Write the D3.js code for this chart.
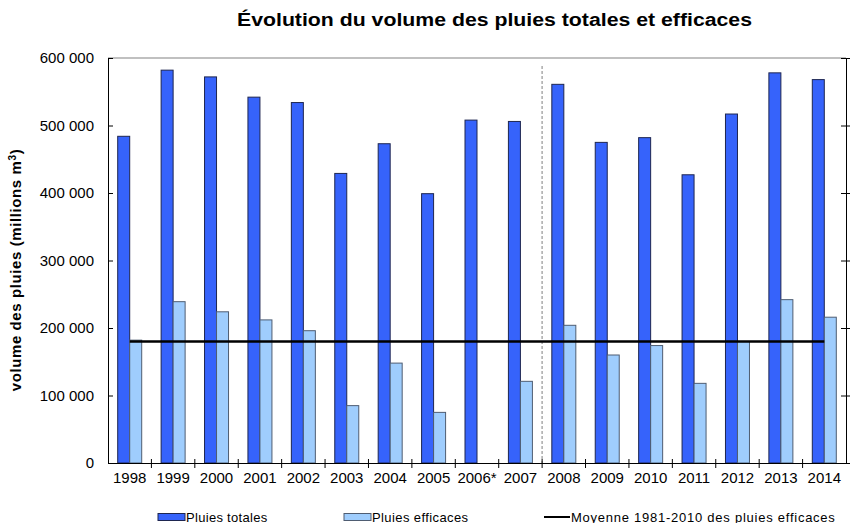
<!DOCTYPE html>
<html>
<head>
<meta charset="utf-8">
<script src="https://cdn.jsdelivr.net/npm/d3@7"></script>
<style>
  body { margin: 0; background: #fff; }
  text { font-family: "Liberation Sans", Arial, sans-serif; fill: #000; }
</style>
</head>
<body>
<div id="chart"></div>
<script>
// data
var years = ['1998', '1999', '2000', '2001', '2002', '2003', '2004', '2005', '2006*',
  '2007', '2008', '2009', '2010', '2011', '2012', '2013', '2014'];
var pluiesTotales = [484000, 582000, 572000, 542000, 534000, 429000, 473000, 399000, 508000,
  506000, 561000, 475000, 482000, 427000, 517000, 578000, 568000];
var pluiesEfficaces = [182000, 239000, 224000, 212000, 196000, 85000, 148000, 75000, null,
  121000, 204000, 160000, 174000, 118000, 180000, 242000, 216000];
var moyenne = 180000;
var yTicks = [0, 100000, 200000, 300000, 400000, 500000, 600000];

var svgWidth = 850, svgHeight = 523;
var margin = {top: 58, right: 4, bottom: 60, left: 108},
    width = svgWidth - margin.left - margin.right,
    height = svgHeight - margin.top - margin.bottom;

var svg = d3.select('#chart').append('svg')
    .attr('width', svgWidth)
    .attr('height', svgHeight);

var g = svg.append('g')
    .attr('transform', `translate(${margin.left}, ${margin.top})`);

var x = d3.scaleBand().domain(years).range([0, width]);
var y = d3.scaleLinear().domain([0, 600000]).range([height, 0]);

var barW = 12;
var fmt = v => d3.format(',')(v).replace(/,/g, ' ');

// top border of the plot area
g.append('line')
    .attr('x1', 0).attr('x2', width)
    .attr('y1', y(600000)).attr('y2', y(600000))
    .attr('stroke', '#c0c0c0').attr('stroke-width', 2);

// dashed separator between 2007 and 2008
g.append('line')
    .attr('x1', x('2008')).attr('x2', x('2008'))
    .attr('y1', 8).attr('y2', height)
    .attr('stroke', '#aaa').attr('stroke-width', 1.5)
    .attr('stroke-dasharray', '3,2');

// bars
g.selectAll('.tot')
    .data(pluiesTotales)
    .enter().append('rect')
    .attr('x', (d, i) => x(years[i]) + x.bandwidth() / 2 - barW)
    .attr('y', d => y(d))
    .attr('width', barW)
    .attr('height', d => height - y(d))
    .attr('fill', '#3663fb')
    .attr('stroke', '#1e2650')
    .attr('stroke-width', 1);

g.selectAll('.eff')
    .data(pluiesEfficaces.map((v, i) => ({v: v, year: years[i]})).filter(d => d.v != null))
    .enter().append('rect')
    .attr('x', d => x(d.year) + x.bandwidth() / 2)
    .attr('y', d => y(d.v))
    .attr('width', barW)
    .attr('height', d => height - y(d.v))
    .attr('fill', '#9fcdfd')
    .attr('stroke', '#4f5d72')
    .attr('stroke-width', 1);

// average line
g.append('line')
    .attr('x1', x(years[0]) + x.bandwidth() / 2)
    .attr('x2', x(years[years.length - 1]) + x.bandwidth() / 2)
    .attr('y1', y(moyenne)).attr('y2', y(moyenne))
    .attr('stroke', '#000').attr('stroke-width', 2.5);

// left axis
var leftAxis = g.append('g')
    .call(d3.axisLeft(y).tickValues(yTicks).tickFormat(fmt).tickSizeInner(5).tickSizeOuter(0).tickPadding(9));
leftAxis.selectAll('.tick line').attr('x2', 5);
leftAxis.selectAll('text').style('font-size', '15px').attr('fill', '#000');
leftAxis.select('.domain').attr('stroke', '#000');

// right axis (no labels)
var rightAxis = g.append('g')
    .attr('transform', `translate(${width}, 0)`)
    .call(d3.axisRight(y).tickValues(yTicks).tickFormat('').tickSizeInner(5).tickSizeOuter(0));
rightAxis.selectAll('.tick line').attr('x1', -5);

// bottom axis: ticks on category boundaries
var bottomAxis = g.append('g')
    .attr('transform', `translate(0, ${height})`)
    .call(d3.axisBottom(x).tickSize(0).tickPadding(9));
bottomAxis.selectAll('text').style('font-size', '15px').attr('fill', '#000');
bottomAxis.select('.domain').attr('stroke', '#000');
bottomAxis.selectAll('.bound')
    .data(years.slice(1))
    .enter().append('line')
    .attr('x1', d => x(d)).attr('x2', d => x(d))
    .attr('y1', -4).attr('y2', 5)
    .attr('stroke', '#000');

// title
svg.append('text')
    .attr('x', 237).attr('y', 26)
    .attr('textLength', 515).attr('lengthAdjust', 'spacingAndGlyphs')
    .style('font-size', '18px').style('font-weight', 'bold')
    .text('Évolution du volume des pluies totales et efficaces');

// y axis title
svg.append('text')
    .attr('transform', 'translate(21, 270) rotate(-90)')
    .attr('text-anchor', 'middle')
    .style('font-size', '15px').style('font-weight', 'bold').style('letter-spacing', '0.6px')
    .html('volume des pluies (millions m<tspan dy="-5" style="font-size:10px">3</tspan><tspan dy="5">)</tspan>');

// legend
var legend = svg.append('g').attr('transform', 'translate(0, 517)');
legend.append('rect').attr('x', 158).attr('y', -3.5).attr('width', 27).attr('height', 7)
    .attr('fill', '#3663fb').attr('stroke', '#1e2650');
legend.append('text').attr('x', 186).attr('y', 4.5).style('font-size', '13px').style('letter-spacing', '0.3px')
    .text('Pluies totales');
legend.append('rect').attr('x', 344).attr('y', -3.5).attr('width', 27).attr('height', 7)
    .attr('fill', '#9fcdfd').attr('stroke', '#4f5d72');
legend.append('text').attr('x', 372).attr('y', 4.5).style('font-size', '13px').style('letter-spacing', '0.4px')
    .text('Pluies efficaces');
legend.append('line').attr('x1', 544).attr('x2', 570).attr('y1', 0).attr('y2', 0)
    .attr('stroke', '#000').attr('stroke-width', 2);
legend.append('text').attr('x', 571).attr('y', 4.5).style('font-size', '13px').style('letter-spacing', '0.75px')
    .text('Moyenne 1981-2010 des pluies efficaces');
</script>
</body>
</html>
